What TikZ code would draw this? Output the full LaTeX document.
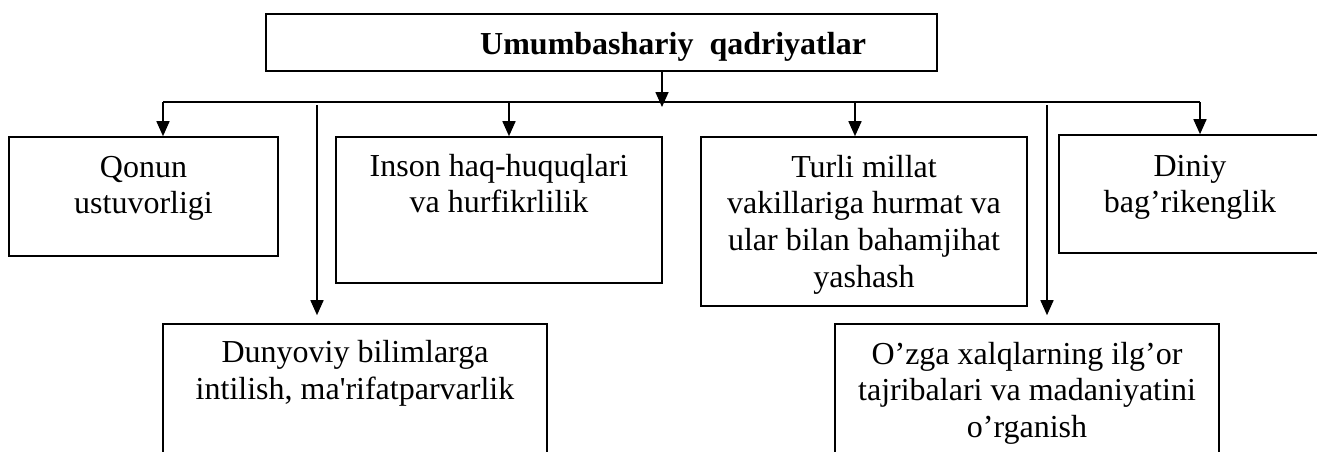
\documentclass[tikz,border=0pt]{standalone}
\usepackage{fontspec}
\setmainfont{Liberation Serif}
\usetikzlibrary{arrows.meta}
\begin{document}
\begin{tikzpicture}[x=1pt,y=-1pt,
  box/.style={draw, line width=1.6pt, rectangle, inner sep=0pt},
  txt/.style={inner sep=0pt, align=center, font=\fontsize{32}{36.8}\selectfont, anchor=north},
  conn/.style={line width=1.6pt},
  arr/.style={line width=1.6pt, -{Triangle[length=15pt,width=13pt]}}]
\useasboundingbox (0,0) rectangle (1317,452);

% boxes
\node[box, minimum width=671pt, minimum height=57pt] (top) at (601.5,42.5) {};
\node[box, minimum width=269pt, minimum height=119pt] (qonun) at (143.5,196.5) {};
\node[box, minimum width=326pt, minimum height=146pt] (inson) at (499,210) {};
\node[box, minimum width=326pt, minimum height=169pt] (turli) at (864,221.5) {};
\node[box, minimum width=262pt, minimum height=118pt] (diniy) at (1190,194) {};
\node[box, minimum width=384pt, minimum height=156pt] (dunyo) at (355,402) {};
\node[box, minimum width=384pt, minimum height=156pt] (ozga) at (1027,402) {};

% texts
\node[inner sep=0pt, anchor=base west, font=\fontsize{32}{36.8}\selectfont\bfseries] (topT) at (480,55) {Umumbashariy\ \ qadriyatlar};
\node[txt] (qonunT) at ([yshift=-15pt]qonun.north) {\strut Qonun\\ustuvorligi};
\node[txt] (insonT) at ([yshift=-14pt]inson.north) {\strut Inson haq-huquqlari\\va hurfikrlilik};
\node[txt] (turliT) at ([yshift=-15pt]turli.north) {\strut Turli millat\\vakillariga hurmat va\\ular bilan bahamjihat\\yashash};
\node[txt] (diniyT) at ([yshift=-16pt]diniy.north) {\strut Diniy\\bag’rikenglik};
\node[txt] (dunyoT) at ([yshift=-13.5pt]dunyo.north) {\strut Dunyoviy bilimlarga\\intilish, ma\textquotesingle rifatparvarlik};
\node[txt] (ozgaT) at ([yshift=-15pt]ozga.north) {\strut O’zga xalqlarning ilg’or\\tajribalari va madaniyatini\\o’rganish};

% connectors
\coordinate (hub) at (662,107);
\coordinate (hl) at (163,102);
\coordinate (hr) at (1200,102);
\coordinate (b2) at (509,102);
\coordinate (b3) at (855,102);
\coordinate (d1) at (317,105);
\coordinate (d2) at (1047,105);

\draw[arr] (top.south -| hub) -- (hub);
\draw[conn] (hl) -- (hr);
\draw[arr] (hl) -- (hl |- qonun.north);
\draw[arr] (b2) -- (b2 |- inson.north);
\draw[arr] (b3) -- (b3 |- turli.north);
\draw[arr] (hr) -- (hr |- diniy.north);
\draw[arr, shorten >=8pt] (d1) -- (d1 |- dunyo.north);
\draw[arr, shorten >=8pt] (d2) -- (d2 |- ozga.north);
\end{tikzpicture}
\end{document}
